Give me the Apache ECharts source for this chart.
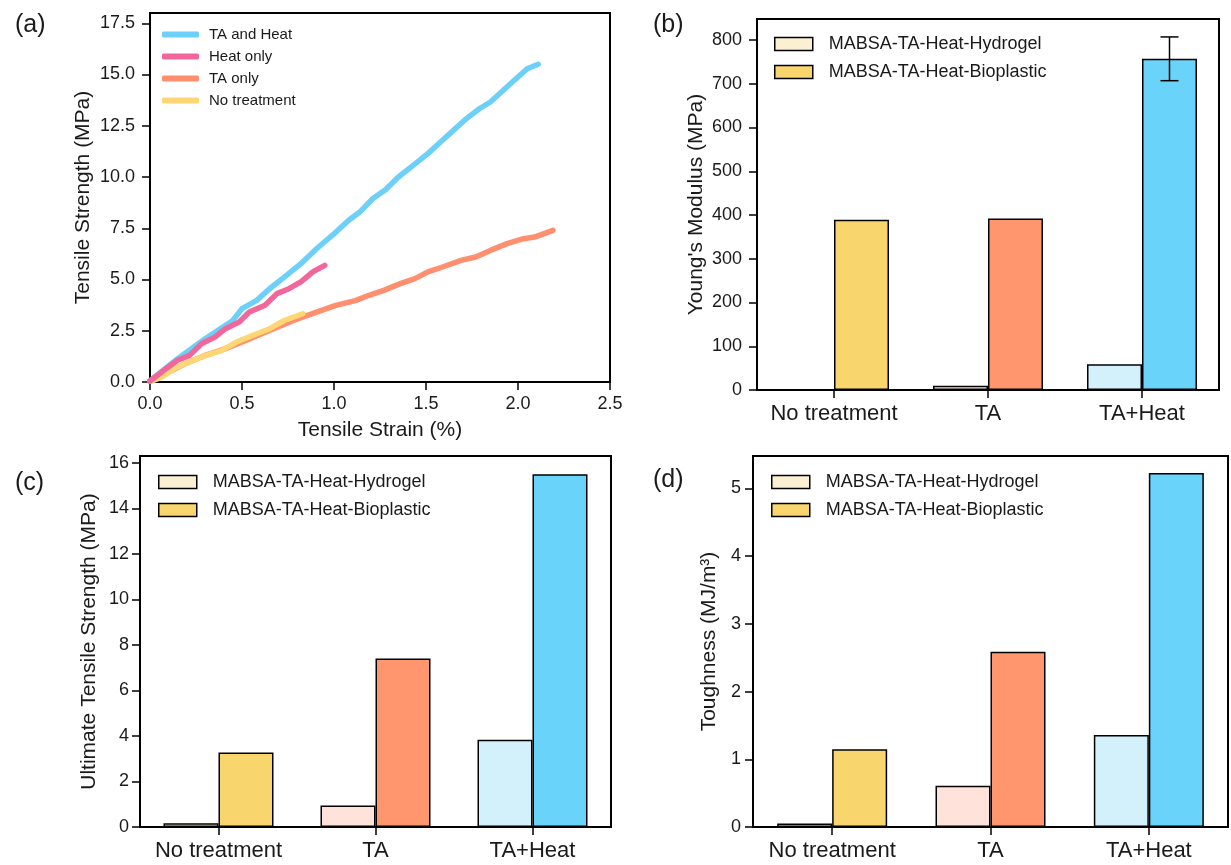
<!DOCTYPE html>
<html>
<head>
<meta charset="utf-8">
<script src="https://cdn.jsdelivr.net/npm/echarts@6/dist/echarts.min.js"></script>
<style>html,body{margin:0;padding:0;background:#fff}#c{width:1231px;height:865px}</style>
</head>
<body>
<div id="c"></div>
<script>
// ---------- Data ----------
// Panel (a): stress-strain curves
const taHeatX = [0, 0.15, 0.30, 0.45, 0.50, 0.58, 0.65, 0.73, 0.82, 0.905, 0.99, 1.08, 1.14, 1.21, 1.28, 1.35, 1.42, 1.51, 1.57, 1.64, 1.72, 1.79, 1.85, 1.92, 1.98, 2.05, 2.11];
const taHeatY = [0.05, 1.14, 2.11, 3.0, 3.58, 3.98, 4.55, 5.12, 5.77, 6.5, 7.15, 7.89, 8.29, 8.94, 9.38, 10.0, 10.49, 11.14, 11.63, 12.2, 12.85, 13.33, 13.66, 14.23, 14.72, 15.28, 15.5];
const heatX = [0, 0.075, 0.15, 0.215, 0.28, 0.355, 0.41, 0.485, 0.54, 0.625, 0.69, 0.755, 0.82, 0.885, 0.95];
const heatY = [0.05, 0.57, 1.06, 1.30, 1.87, 2.2, 2.6, 2.93, 3.41, 3.74, 4.31, 4.55, 4.88, 5.37, 5.69];
const taX = [0, 0.086, 0.19, 0.30, 0.41, 0.52, 0.65, 0.78, 0.905, 1.01, 1.12, 1.19, 1.27, 1.36, 1.44, 1.51, 1.59, 1.69, 1.77, 1.85, 1.94, 2.03, 2.09, 2.19];
const taY = [0.05, 0.41, 0.89, 1.30, 1.63, 2.03, 2.52, 3.0, 3.41, 3.74, 3.98, 4.23, 4.47, 4.80, 5.04, 5.37, 5.61, 5.93, 6.10, 6.42, 6.75, 6.99, 7.07, 7.40];
const noneX = [0.01, 0.065, 0.13, 0.19, 0.28, 0.39, 0.47, 0.56, 0.65, 0.73, 0.83];
const noneY = [0.05, 0.24, 0.65, 0.89, 1.22, 1.54, 1.95, 2.28, 2.60, 3.0, 3.33];
const lineNames = ['TA and Heat', 'Heat only', 'TA only', 'No treatment'];

// Bar panels
const categories = ['No treatment', 'TA', 'TA+Heat'];
const barNames = ['MABSA-TA-Heat-Hydrogel', 'MABSA-TA-Heat-Bioplastic'];
const modulusHydrogel = [0, 10, 59];
const modulusBioplastic = [389, 392, 757];
const modulusErrLow = [null, null, 707];
const modulusErrHigh = [null, null, 807];
const utsHydrogel = [0.17, 0.95, 3.83];
const utsBioplastic = [3.27, 7.40, 15.5];
const toughHydrogel = [0.05, 0.61, 1.36];
const toughBioplastic = [1.15, 2.59, 5.23];

// Tick labels
const ticksAX = [0, 0.5, 1.0, 1.5, 2.0, 2.5];
const ticksAY = [0, 2.5, 5, 7.5, 10, 12.5, 15, 17.5];
const ticksB = [0, 100, 200, 300, 400, 500, 600, 700, 800];
const ticksC = [0, 2, 4, 6, 8, 10, 12, 14, 16];
const ticksD = [0, 1, 2, 3, 4, 5];

// ---------- Styles ----------
const FONT = '"Liberation Sans", Arial, Helvetica, sans-serif';
const TXT = '#1a1a1a';
const lineColors = ['#6CD0F8', '#F2679B', '#FF8F6E', '#FDD773'];
const hydroColors = ['#FCF0D2', '#FFE2DA', '#D3F1FA'];
const bioColors = ['#F9D56E', '#FF966E', '#6AD3FA'];
const BAR_W = 55;

function zip(xs, ys) { return xs.map((x, i) => [x, ys[i]]); }
function colored(vals, cols) { return vals.map((v, i) => ({ value: v, itemStyle: { color: cols[i] } })); }

const axisLineStyle = { show: true, lineStyle: { color: '#000', width: 2 } };
const tickStyle = (vals) => ({ show: true, inside: false, length: 8, lineStyle: { color: '#000', width: 1.5 }, customValues: vals, alignWithLabel: true });

function catX(gi) {
  return {
    type: 'category', gridIndex: gi, data: categories,
    axisLine: axisLineStyle,
    axisTick: { show: true, inside: false, length: 8, alignWithLabel: true, interval: 0, lineStyle: { color: '#000', width: 1.5 } },
    axisLabel: { fontFamily: FONT, fontSize: 22, color: TXT, margin: 13, interval: 0 },
    splitLine: { show: false }
  };
}
function valY(gi, max, ticks, name, gap, lblMargin) {
  return {
    type: 'value', gridIndex: gi, min: 0, max: max,
    name: name, nameLocation: 'middle', nameGap: gap,
    nameTextStyle: { fontFamily: FONT, fontSize: 21, color: TXT },
    axisLine: axisLineStyle,
    axisTick: tickStyle(ticks),
    axisLabel: { fontFamily: FONT, fontSize: 18, color: TXT, margin: lblMargin, customValues: ticks },
    splitLine: { show: false }
  };
}
function barLegend(left, top) {
  return {
    left: left, top: top, orient: 'vertical', itemWidth: 38, itemHeight: 13, itemGap: 10,
    icon: 'rect',
    textStyle: { fontFamily: FONT, fontSize: 18, color: TXT, padding: [0, 0, 0, 11] },
    data: [
      { name: barNames[0], itemStyle: { color: hydroColors[0], borderColor: '#000', borderWidth: 1.5 } },
      { name: barNames[1], itemStyle: { color: bioColors[0], borderColor: '#000', borderWidth: 1.5 } }
    ]
  };
}
function barSeries(gi, hyd, bio) {
  const base = { type: 'bar', xAxisIndex: gi, yAxisIndex: gi, barWidth: BAR_W, barGap: '0%' };
  return [
    Object.assign({}, base, { name: barNames[0], data: colored(hyd, hydroColors), itemStyle: { color: hydroColors[0], borderColor: '#000', borderWidth: 1.5 } }),
    Object.assign({}, base, { name: barNames[1], data: colored(bio, bioColors), itemStyle: { color: bioColors[0], borderColor: '#000', borderWidth: 1.5 } })
  ];
}

const errData = modulusErrLow.map((lo, i) => lo == null ? null : [i, lo, modulusErrHigh[i]]).filter(d => d);
const lineStyleA = { width: 5.5, cap: 'round', join: 'round' };

const option = {
  animation: false,
  backgroundColor: '#fff',
  title: [
    { text: '(a)', left: 10, top: 8, textStyle: { fontFamily: FONT, fontSize: 25, fontWeight: 'normal', color: TXT } },
    { text: '(b)', left: 648, top: 8, textStyle: { fontFamily: FONT, fontSize: 25, fontWeight: 'normal', color: TXT } },
    { text: '(c)', left: 10, top: 466, textStyle: { fontFamily: FONT, fontSize: 25, fontWeight: 'normal', color: TXT } },
    { text: '(d)', left: 648, top: 463, textStyle: { fontFamily: FONT, fontSize: 25, fontWeight: 'normal', color: TXT } }
  ],
  grid: [
    { left: 150, right: 621, top: 13, bottom: 483, show: true, borderColor: '#000', borderWidth: 2, backgroundColor: 'transparent' },
    { left: 757, right: 12, top: 19, bottom: 475, show: true, borderColor: '#000', borderWidth: 2, backgroundColor: 'transparent' },
    { left: 140, right: 620, top: 456, bottom: 38, show: true, borderColor: '#000', borderWidth: 2, backgroundColor: 'transparent' },
    { left: 753, right: 3, top: 456, bottom: 38, show: true, borderColor: '#000', borderWidth: 2, backgroundColor: 'transparent' }
  ],
  legend: [
    {
      left: 157, top: 22, orient: 'vertical', itemWidth: 37, itemHeight: 6, itemGap: 7, icon: 'roundRect',
      textStyle: { fontFamily: FONT, fontSize: 15, color: TXT, padding: [0, 0, 0, 5] },
      data: lineNames
    },
    barLegend(769, 30),
    barLegend(153, 468),
    barLegend(766, 468)
  ],
  xAxis: [
    {
      type: 'value', gridIndex: 0, min: 0, max: 2.5, interval: 0.5,
      name: 'Tensile Strain (%)', nameLocation: 'middle', nameGap: 38,
      nameTextStyle: { fontFamily: FONT, fontSize: 21, color: TXT },
      axisLine: axisLineStyle,
      axisTick: tickStyle(ticksAX),
      axisLabel: { fontFamily: FONT, fontSize: 18, color: TXT, margin: 13, customValues: ticksAX, formatter: v => v.toFixed(1) },
      splitLine: { show: false }
    },
    catX(1), catX(2), catX(3)
  ],
  yAxis: [
    Object.assign(valY(0, 18, ticksAY, 'Tensile Strength (MPa)', 56, 15), {
      axisLabel: { fontFamily: FONT, fontSize: 18, color: TXT, margin: 15, customValues: ticksAY, formatter: v => v.toFixed(1) }
    }),
    valY(1, 848, ticksB, "Young's Modulus (MPa)", 50, 15),
    valY(2, 16.3, ticksC, 'Ultimate Tensile Strength (MPa)', 40, 11),
    valY(3, 5.48, ticksD, 'Toughness (MJ/m³)', 33, 12)
  ],
  series: [
    { name: lineNames[2], type: 'line', xAxisIndex: 0, yAxisIndex: 0, data: zip(taX, taY), showSymbol: false, color: lineColors[2], lineStyle: lineStyleA },
    { name: lineNames[3], type: 'line', xAxisIndex: 0, yAxisIndex: 0, data: zip(noneX, noneY), showSymbol: false, color: lineColors[3], lineStyle: lineStyleA },
    { name: lineNames[0], type: 'line', xAxisIndex: 0, yAxisIndex: 0, data: zip(taHeatX, taHeatY), showSymbol: false, color: lineColors[0], lineStyle: lineStyleA },
    { name: lineNames[1], type: 'line', xAxisIndex: 0, yAxisIndex: 0, data: zip(heatX, heatY), showSymbol: false, color: lineColors[1], lineStyle: lineStyleA },
    ...barSeries(1, modulusHydrogel, modulusBioplastic),
    ...barSeries(2, utsHydrogel, utsBioplastic),
    ...barSeries(3, toughHydrogel, toughBioplastic),
    {
      type: 'custom', xAxisIndex: 1, yAxisIndex: 1, data: errData, z: 10,
      renderItem: function (params, api) {
        const lo = api.coord([api.value(0), api.value(1)]);
        const hi = api.coord([api.value(0), api.value(2)]);
        const x = lo[0] + BAR_W / 2;
        const cap = 9;
        const st = { stroke: '#000', lineWidth: 1.5 };
        return { type: 'group', children: [
          { type: 'line', shape: { x1: x, y1: lo[1], x2: x, y2: hi[1] }, style: st },
          { type: 'line', shape: { x1: x - cap, y1: lo[1], x2: x + cap, y2: lo[1] }, style: st },
          { type: 'line', shape: { x1: x - cap, y1: hi[1], x2: x + cap, y2: hi[1] }, style: st }
        ] };
      }
    }
  ]
};

const chart = echarts.init(document.getElementById('c'), null, { renderer: 'canvas' });
chart.setOption(option);
</script>
</body>
</html>
